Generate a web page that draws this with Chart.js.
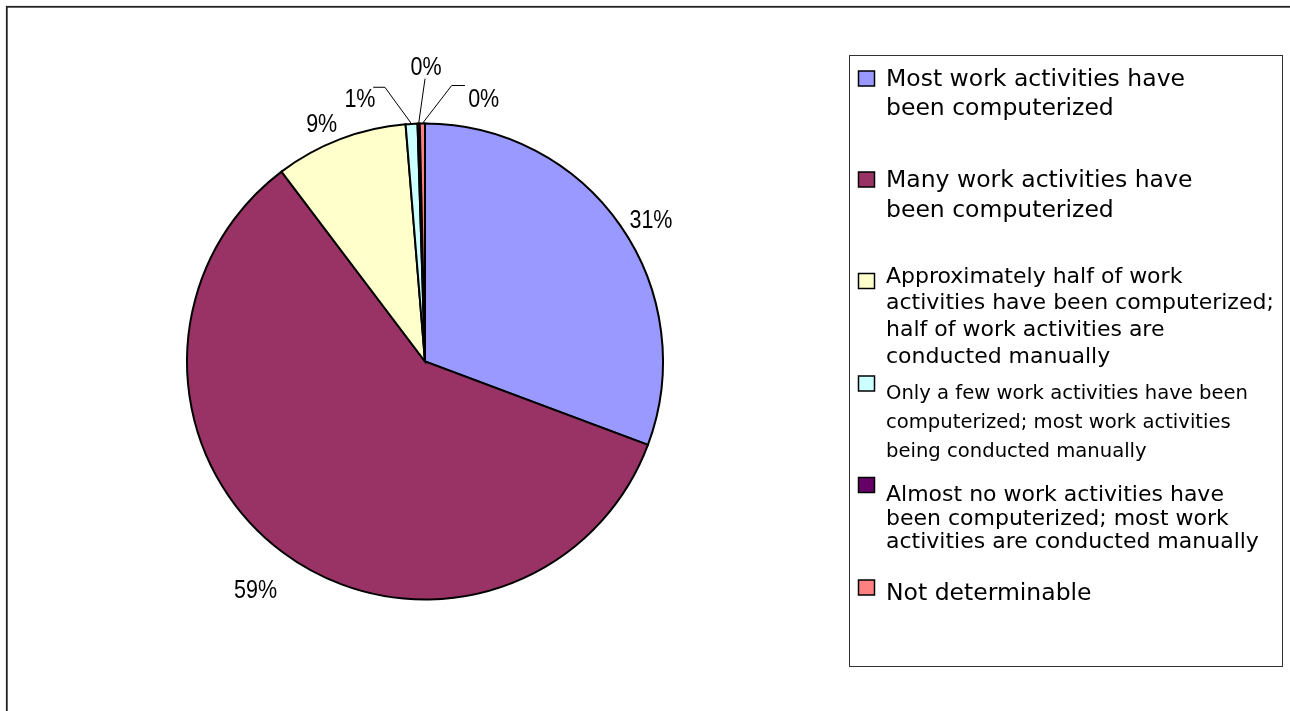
<!DOCTYPE html>
<html>
<head>
<meta charset="utf-8">
<title>Computerization of work activities</title>
<script src="https://cdn.jsdelivr.net/npm/chart.js@4/dist/chart.umd.min.js"></script>
<style>
  html, body { margin: 0; padding: 0; background: #fff; }
  #wrap { position: relative; width: 1290px; height: 711px; }
</style>
</head>
<body>
<div id="wrap"><canvas id="pie" width="1290" height="711"></canvas></div>
<script>
// Survey categories (legend text, one entry per line of the legend)
const categories = [
  ['Most work activities have', 'been computerized'],
  ['Many work activities have', 'been computerized'],
  ['Approximately half of work', 'activities have been computerized;', 'half of work activities are', 'conducted manually'],
  ['Only a few work activities have been', 'computerized; most work activities', 'being conducted manually'],
  ['Almost no work activities have', 'been computerized; most work', 'activities are conducted manually'],
  ['Not determinable']
];

// Share of respondents, in percent
const shares = [30.7, 59.0, 9.0, 0.8, 0.15, 0.35];

// Slice colours
const sliceColors = ['#9999FF', '#993366', '#FFFFCC', '#CCFFFF', '#660066', '#FF8080'];

// Where each percentage label sits relative to the outer midpoint of its slice,
// plus optional leader-line points (relative to the label centre, slice side first)
const labelPlacement = [
  { dx: 30.4, dy: -5.8 },
  { dx: -27.2, dy: 37.7 },
  { dx: -18.5, dy: -15.1 },
  { dx: -51.6, dy: -24.9, leader: [[25, -11.7], [13.3, -11.7]] },
  { dx: 7.4, dy: -56.2, leader: [[-1, 11.3]] },
  { dx: 61.3, dy: -24.7, leader: [[-32, -13.3], [-18.7, -13.3]] }
];

// Legend layout: swatch top, first baseline offset, line height, font size
const legendLayout = {
  box: { x: 849.5, y: 55.5, w: 433, h: 611 },
  swatchX: 858.5, swatchW: 16, swatchH: 15, textX: 886,
  items: [
    { top: 71, base: 14.7, lh: 29.3, size: 23.5 },
    { top: 172, base: 15.3, lh: 29.4, size: 23.5 },
    { top: 273.5, base: 9.0, lh: 26.8, size: 22 },
    { top: 376, base: 23.3, lh: 28.8, size: 19.6 },
    { top: 477.5, base: 23.5, lh: 23.7, size: 22 },
    { top: 580, base: 19.5, lh: 26, size: 23.5 }
  ]
};

const frame = {
  id: 'frame',
  beforeDraw(chart) {
    const ctx = chart.ctx;
    ctx.save();
    ctx.fillStyle = '#fff';
    ctx.fillRect(0, 0, chart.width, chart.height);
    ctx.strokeStyle = '#222';
    ctx.lineWidth = 1.8;
    ctx.strokeRect(6.8, 6.8, chart.width + 20, chart.height + 20);
    ctx.restore();
  }
};

const pieLabels = {
  id: 'pieLabels',
  afterDatasetsDraw(chart) {
    const ctx = chart.ctx;
    const values = chart.data.datasets[0].data;
    const total = values.reduce((a, b) => a + b, 0);
    const meta = chart.getDatasetMeta(0);
    ctx.save();
    meta.data.forEach((arc, i) => {
      const p = arc.getProps(['x', 'y', 'startAngle', 'endAngle', 'outerRadius'], true);
      const mid = (p.startAngle + p.endAngle) / 2;
      const px = p.x + Math.cos(mid) * p.outerRadius;
      const py = p.y + Math.sin(mid) * p.outerRadius;
      const place = labelPlacement[i];
      const lx = px + place.dx, ly = py + place.dy;
      if (place.leader) {
        ctx.beginPath();
        ctx.moveTo(px, py);
        place.leader.forEach(([ox, oy]) => ctx.lineTo(lx + ox, ly + oy));
        ctx.strokeStyle = '#000';
        ctx.lineWidth = 1;
        ctx.stroke();
      }
      const text = Math.round(values[i] / total * 100) + '%';
      ctx.save();
      ctx.translate(lx, ly);
      ctx.scale(0.86, 1);
      ctx.font = '25px "Liberation Sans", Arial, sans-serif';
      ctx.fillStyle = '#000';
      ctx.textAlign = 'center';
      ctx.textBaseline = 'middle';
      ctx.fillText(text, 0, 1);
      ctx.restore();
    });
    ctx.restore();
  }
};

const boxLegend = {
  id: 'boxLegend',
  afterDraw(chart) {
    const ctx = chart.ctx;
    const L = legendLayout;
    const ds = chart.data.datasets[0];
    ctx.save();
    ctx.strokeStyle = '#333';
    ctx.lineWidth = 1;
    ctx.strokeRect(L.box.x, L.box.y, L.box.w, L.box.h);
    chart.data.labels.forEach((lines, i) => {
      const it = L.items[i];
      ctx.fillStyle = ds.backgroundColor[i];
      ctx.fillRect(L.swatchX, it.top, L.swatchW, L.swatchH);
      ctx.strokeStyle = '#000';
      ctx.lineWidth = 1.5;
      ctx.strokeRect(L.swatchX, it.top, L.swatchW, L.swatchH);
      ctx.fillStyle = '#000';
      ctx.font = it.size + 'px "DejaVu Sans", sans-serif';
      ctx.textAlign = 'left';
      ctx.textBaseline = 'alphabetic';
      lines.forEach((line, k) => {
        ctx.fillText(line, L.textX, it.top + it.base + k * it.lh);
      });
    });
    ctx.restore();
  }
};

new Chart(document.getElementById('pie'), {
  type: 'pie',
  data: {
    labels: categories,
    datasets: [{
      data: shares,
      backgroundColor: sliceColors,
      borderColor: '#000',
      borderWidth: 2,
      borderJoinStyle: 'miter'
    }]
  },
  options: {
    responsive: false,
    animation: false,
    radius: 238,
    layout: { padding: { left: 187, right: 627, top: 123, bottom: 111 } },
    plugins: {
      legend: { display: false },
      tooltip: { enabled: false }
    }
  },
  plugins: [frame, pieLabels, boxLegend]
});
</script>
</body>
</html>
